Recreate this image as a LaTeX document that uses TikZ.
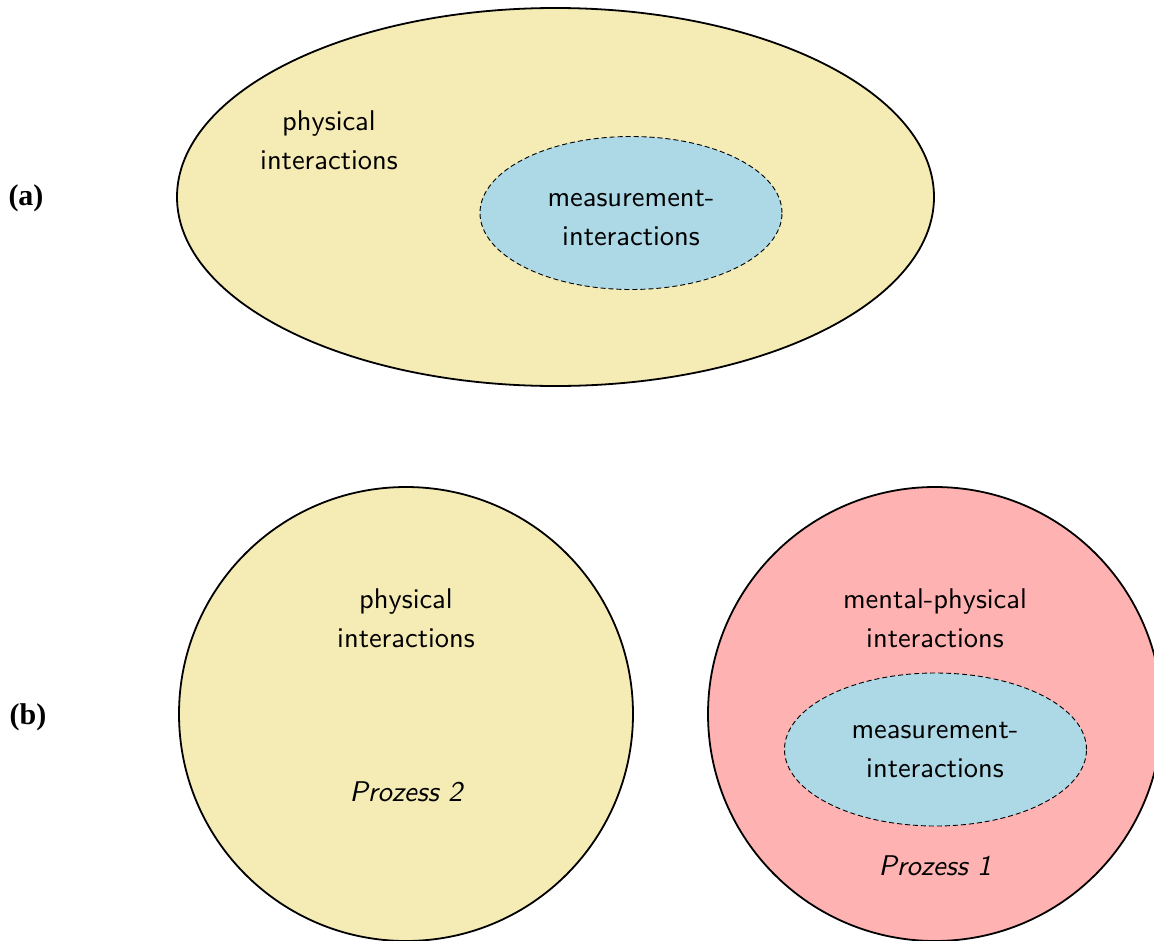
\documentclass[tikz,border=0pt]{standalone}
\usepackage{fontspec}
\usetikzlibrary{shapes.geometric}
\newfontfamily\lblfont{lmsans10-regular.otf}[ItalicFont=lmsans10-oblique.otf]
\newfontfamily\tagfont{Liberation Serif}
\definecolor{physyellow}{RGB}{245,235,181}
\definecolor{mentalpink}{RGB}{255,178,178}
\definecolor{measblue}{RGB}{173,216,230}
\tikzset{
  region/.style={draw=black, line width=1.8pt, inner sep=0pt, outer sep=0pt},
  bigoval/.style={region, ellipse, fill=physyellow, minimum width=757pt, minimum height=378pt},
  physdisc/.style={region, circle, fill=physyellow, minimum size=454pt},
  mentaldisc/.style={region, circle, fill=mentalpink, minimum size=454pt},
  subset/.style={ellipse, draw=black, line width=0.9pt, dash pattern=on 5pt off 3pt,
    fill=measblue, inner sep=0pt, minimum width=302pt, minimum height=153pt},
  lbl/.style={font=\lblfont\fontsize{28.5}{39}\selectfont, align=center, inner sep=0pt},
  proc/.style={font=\lblfont\itshape\fontsize{28.5}{39}\selectfont, inner sep=0pt},
  tag/.style={font=\tagfont\bfseries\fontsize{30}{34}\selectfont, inner sep=0pt}
}
\begin{document}
\begin{tikzpicture}[x=1pt,y=-1pt]
\useasboundingbox (0,0) rectangle (1154,940);
\clip (0,0) rectangle (1154,940);
% (a)
\node[tag] (taga) at (26,198) {(a)};
\node[bigoval] (physA) at (555.5,197) {};
\node[subset] (measA) at (631,213) {};
\node[lbl] (physAtext) at (329,140) {physical\\interactions};
\node[lbl] (measAtext) at (631,218) {measurement-\\interactions};
% (b)
\node[tag] (tagb) at (28,717) {(b)};
\node[physdisc] (physB) at (406,714) {};
\node[mentaldisc] (mentB) at (935,714) {};
\node[subset] (measB) at (935.5,749.5) {};
\node[lbl] (physBtext) at (406,618) {physical\\interactions};
\node[proc] (proc2) at (406,792) {Prozess 2};
\node[lbl] (mentBtext) at (935,618) {mental-physical\\interactions};
\node[lbl] (measBtext) at (935,750) {measurement-\\interactions};
\node[proc] (proc1) at (935,866) {Prozess 1};
\end{tikzpicture}
\end{document}
